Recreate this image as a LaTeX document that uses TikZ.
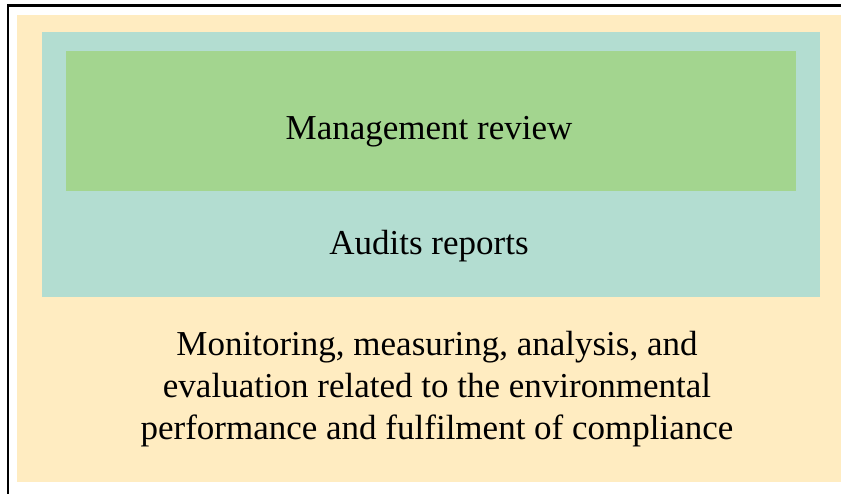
\documentclass[tikz,border=0pt]{standalone}
\usepackage{fontspec}
\setmainfont{Liberation Serif}
\definecolor{ybg}{RGB}{255,236,193}
\definecolor{tbg}{RGB}{179,221,209}
\definecolor{gbg}{RGB}{163,213,143}
\begin{document}
\begin{tikzpicture}[x=1pt,y=-1pt,
  lbl/.style={anchor=base,inner sep=0pt,align=center,font=\fontsize{35}{42}\selectfont}]
\useasboundingbox (0,0) rectangle (841,493);
\fill[white] (0,0) rectangle (841,493);
\draw[line width=2.2pt] (8,5.5) rectangle (860,510);
\fill[ybg] (17,15) rectangle (841,482);
\fill[tbg] (42,32) rectangle (820,297);
\fill[gbg] (66,51) rectangle (796,191);
\node[lbl] (mr) at (429,139) {Management review};
\node[lbl] (ar) at (429,254) {Audits reports};
\node[lbl] (mon) at (437,439) {Monitoring, measuring, analysis, and\\evaluation related to the environmental\\performance and fulfilment of compliance};
\end{tikzpicture}
\end{document}
